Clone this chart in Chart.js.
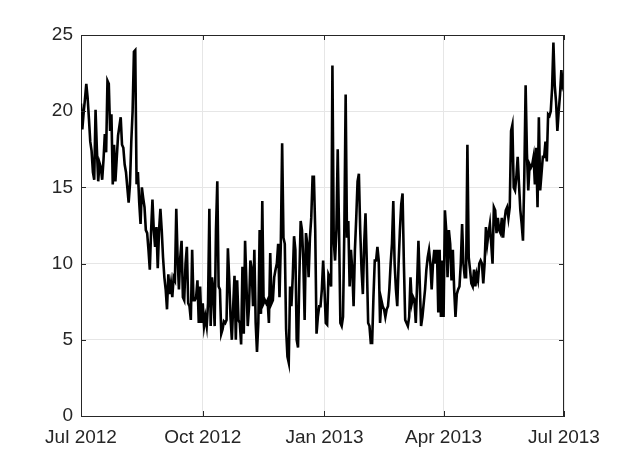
<!DOCTYPE html>
<html>
<head>
<meta charset="utf-8">
<script src="https://cdn.jsdelivr.net/npm/chart.js@4/dist/chart.umd.min.js"></script>
<style>
html,body{margin:0;padding:0;background:#fff;}
canvas{display:block;}
</style>
</head>
<body>
<canvas id="c" width="623" height="467"></canvas>
<script>
// Daily values, 1 Jul 2012 .. 1 Jul 2013 (day index 0..365)
const valuesJul = [20.5,18.8,19.9,20.8,21.8,20.9,19.5,18.0,17.4,16.0,
15.5,20.1,17.5,15.4,16.6,16.3,15.5,16.8,18.5,17.3,
22.0,21.8,18.7,19.8,15.2,17.8,15.4,16.9,18.4,19.0,
19.6,17.8,17.6,16.5,16.0,15.0,14.0,15.2,18.0,20.0,
23.9,24.0,15.2,16.0,14.0,12.6];
const valuesAug = [15.0,14.3,13.7,12.2,12.0,10.9,9.6,12.2,14.2,12.2,
11.1,12.4,9.7,12.2,13.6,12.2,10.4,9.1,8.3,7.0,
9.3,8.0,8.7,7.8,9.1,8.9,13.6,10.4,8.3,10.4,
11.5,7.8,7.6,10.0,11.1,7.4,7.2,6.3,10.9,7.6,
7.6,7.8,8.9,6.1];
const valuesOct = [8.5,6.1,7.4,5.9,6.5,5.9,7.4,13.6,5.9,9.1,
8.3,5.9,12.2,15.4,8.5,8.3,5.4,5.7,6.2,6.1,
6.3,11.0,9.0,6.5,5.0,7.2,9.2,5.0,8.9,6.3,
6.1,4.7,9.8,5.4,11.5,8.7,5.9,7.2,10.2,9.6,
7.2,10.9,6.1,4.2,6.1,12.2];
const valuesNov = [6.7,14.1,7.4,7.6,7.4,7.6,6.1,10.7,7.4,7.6,
9.1,9.6,10.0,11.3,7.8,11.3,17.9,11.7,11.3,5.7,
3.9,3.5,8.5,7.2,9.1,11.8,10.9,5.0,4.5,9.1,
12.8,12.2,10.2,6.3,12.0,11.3,9.1,11.7,13.0,15.7,
15.7,12.2,5.4,6.5,7.2];
const valuesJan = [7.2,8.3,10.2,8.3,6.1,6.0,9.3,9.1,8.5,23.0,
11.5,10.2,12.2,17.5,12.2,6.1,5.9,6.5,12.2,21.1,
11.7,12.8,8.5,10.9,9.6,7.2,10.9,13.0,15.4,15.9,
12.2,9.6,8.0,11.3,13.3,10.0,6.1,5.9,4.8,4.8,
7.8,10.2,10.2,11.1,10.2];
const valuesFeb = [6.1,7.6,7.2,7.0,6.5,7.0,7.2,8.3,10.0,11.3,
14.1,10.0,8.3,7.2,10.0,12.2,13.9,14.6,10.0,6.3,
6.1,5.9,6.5,9.1,7.4,7.8,7.6,6.1,8.7,11.5,
8.7,5.9,6.5,7.4,8.3,9.6,10.4,10.9,10.0,8.3,
10.0,10.9,10.0];
const valuesMar = [10.9,6.8,10.9,6.5,10.2,6.5,13.5,12.2,9.1,12.2,
11.3,8.9,10.9,8.3,6.5,8.0,8.3,8.5,10.0,12.6,
10.0,9.1,9.1,17.8,10.4,9.6,8.7,8.5,9.6,8.5,
9.3,8.9,10.0,10.2,10.0,8.7,10.0,12.4,11.3,12.0,
12.6,11.3,10.0,13.7,13.5,12.0,13.0,12.2];
const valuesMay = [12.0,13.0,11.7,12.8,13.5,13.7,13.0,13.7,18.7,19.1,
15.0,14.8,15.7,17.0,15.2,13.5,12.6,11.5,15.7,21.7,
17.2,14.8,16.5,16.3,16.5,17.0,15.2,17.6,13.7,19.6,
14.8,15.9,17.0,17.0,18.0,16.7,19.8,19.7,20.0,21.5,
24.5,21.7,20.6,18.7,20.0,21.1,22.7,21.7,22.0];

const tickDays = [0, 92, 184, 274, 365];
const tickLabels = ['Jul 2012', 'Oct 2012', 'Jan 2013', 'Apr 2013', 'Jul 2013'];
const yTicks = [0, 5, 10, 15, 20, 25];

const series = [].concat(valuesJul, valuesAug, valuesOct, valuesNov, valuesJan, valuesFeb, valuesMar, valuesMay);
const points = series.map((v, i) => ({x: i, y: v}));

const AXIS = '#262626';
const FONT = {family: '"Liberation Sans", Arial, Helvetica, sans-serif', size: 19};

const boxPlugin = {
  id: 'box',
  afterDraw(chart) {
    const {ctx, chartArea: a, scales} = chart;
    ctx.save();
    ctx.strokeStyle = AXIS;
    ctx.lineWidth = 1;
    ctx.beginPath();
    ctx.moveTo(a.left, a.top + 0.5); ctx.lineTo(a.right, a.top + 0.5);
    ctx.moveTo(a.right - 0.5, a.top); ctx.lineTo(a.right - 0.5, a.bottom);
    const L = 5;
    tickDays.forEach(d => {
      const x = Math.round(scales.x.getPixelForValue(d)) + 0.5;
      ctx.moveTo(x, a.bottom); ctx.lineTo(x, a.bottom - L);
      ctx.moveTo(x, a.top); ctx.lineTo(x, a.top + L);
    });
    yTicks.forEach(v => {
      const y = Math.round(scales.y.getPixelForValue(v)) + 0.5;
      ctx.moveTo(a.left, y); ctx.lineTo(a.left + L, y);
      ctx.moveTo(a.right, y); ctx.lineTo(a.right - L, y);
    });
    ctx.stroke();
    ctx.restore();
  }
};

new Chart(document.getElementById('c'), {
  type: 'line',
  data: {
    datasets: [{
      data: points,
      borderColor: '#000',
      borderWidth: 2.6,
      pointRadius: 0,
      tension: 0,
      fill: false
    }]
  },
  options: {
    responsive: false,
    animation: false,
    events: [],
    layout: {padding: {left: 0, right: 59, top: 35, bottom: 0}},
    plugins: {legend: {display: false}, tooltip: {enabled: false}},
    scales: {
      x: {
        type: 'linear',
        min: 0, max: 365,
        afterBuildTicks: s => { s.ticks = tickDays.map(v => ({value: v})); },
        afterFit: s => { s.height = 51; },
        ticks: {
          color: AXIS, font: FONT, padding: 10, maxRotation: 0, autoSkip: false,
          callback: v => tickLabels[tickDays.indexOf(v)]
        },
        grid: {color: '#e6e6e6', drawTicks: false},
        border: {color: AXIS, width: 1}
      },
      y: {
        type: 'linear',
        min: 0, max: 25,
        afterBuildTicks: s => { s.ticks = yTicks.map(v => ({value: v})); },
        afterFit: s => { s.width = 81; },
        ticks: {color: AXIS, font: FONT, padding: 8},
        grid: {color: '#e6e6e6', drawTicks: false},
        border: {color: AXIS, width: 1}
      }
    }
  },
  plugins: [boxPlugin]
});
</script>
</body>
</html>
